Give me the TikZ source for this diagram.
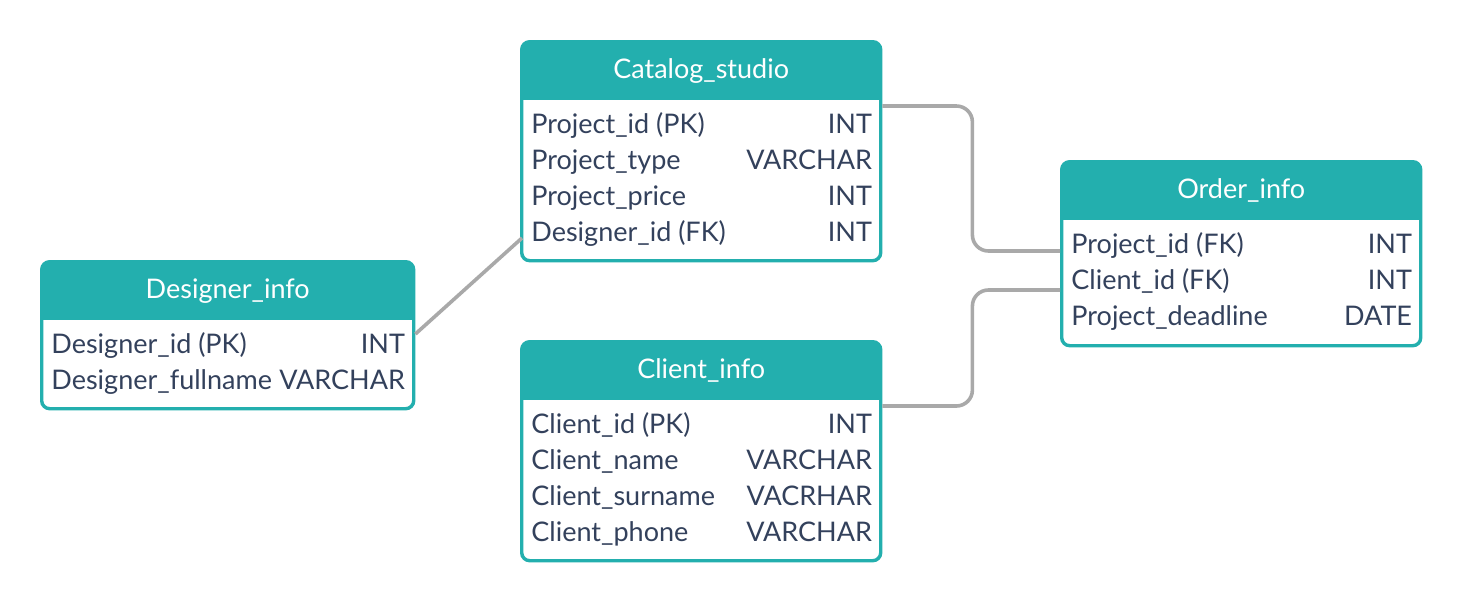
\documentclass[tikz,border=0pt]{standalone}
\usepackage{fontspec}
\setmainfont{Lato}
\usetikzlibrary{calc}
\definecolor{tblTeal}{HTML}{23AFAE}
\definecolor{textDark}{HTML}{33415C}
\definecolor{linkGray}{HTML}{A9A9A9}

\begin{document}
\begin{tikzpicture}[x=0.5pt, y=-0.5pt,
    tbl/.style={rectangle, rounded corners=4pt, draw=tblTeal, line width=1.7pt,
                fill=white, anchor=north west, inner sep=0pt,
                path picture={\fill[tblTeal, sharp corners]
                  (path picture bounding box.north west) rectangle
                  ([yshift=-29pt]path picture bounding box.north east);}},
    ttl/.style={anchor=base, inner sep=0pt, text=white,
                font=\fontsize{13.5}{16}\selectfont},
    fld/.style={anchor=base west, inner sep=0pt, text=textDark,
                font=\fontsize{13.5}{16}\selectfont},
    typ/.style={anchor=base east, inner sep=0pt, text=textDark,
                font=\fontsize{13.5}{16}\selectfont},
    link/.style={draw=linkGray, line width=1.8pt, rounded corners=8pt},
  ]
    \useasboundingbox (0,0) rectangle (1460,600);

    % tables
    \node[tbl, minimum width=179.5pt, minimum height=109.5pt] (cat) at (520,40) {};
    \node[ttl] (cat-t) at ($(cat.north)+(0,38)$) {Catalog\_studio};
    \foreach \f/\t [count=\i] in {Project\_id (PK)/INT, Project\_type/VARCHAR,
        Project\_price/INT, Designer\_id (FK)/INT} {
      \node[fld] (cat-f\i) at ($(cat.north west)+(11,{93+36*(\i-1)})$) {\f};
      \node[typ] (cat-y\i) at ($(cat.north east)+(-10,{93+36*(\i-1)})$) {\t};
    }

    \node[tbl, minimum width=186pt, minimum height=73.5pt] (des) at (40,260) {};
    \node[ttl] (des-t) at ($(des.north)+(0,38)$) {Designer\_info};
    \foreach \f/\t [count=\i] in {Designer\_id (PK)/INT,
        Designer\_fullname/VARCHAR} {
      \node[fld] (des-f\i) at ($(des.north west)+(11,{93+36*(\i-1)})$) {\f};
      \node[typ] (des-y\i) at ($(des.north east)+(-10,{93+36*(\i-1)})$) {\t};
    }

    \node[tbl, minimum width=179.5pt, minimum height=109.5pt] (cli) at (520,340) {};
    \node[ttl] (cli-t) at ($(cli.north)+(0,38)$) {Client\_info};
    \foreach \f/\t [count=\i] in {Client\_id (PK)/INT, Client\_name/VARCHAR,
        Client\_surname/VACRHAR, Client\_phone/VARCHAR} {
      \node[fld] (cli-f\i) at ($(cli.north west)+(11,{93+36*(\i-1)})$) {\f};
      \node[typ] (cli-y\i) at ($(cli.north east)+(-10,{93+36*(\i-1)})$) {\t};
    }

    \node[tbl, minimum width=179.5pt, minimum height=92pt] (ord) at (1060,160) {};
    \node[ttl] (ord-t) at ($(ord.north)+(0,38)$) {Order\_info};
    \foreach \f/\t [count=\i] in {Project\_id (FK)/INT, Client\_id (FK)/INT,
        Project\_deadline/DATE} {
      \node[fld] (ord-f\i) at ($(ord.north west)+(11,{93+36*(\i-1)})$) {\f};
      \node[typ] (ord-y\i) at ($(ord.north east)+(-10,{93+36*(\i-1)})$) {\t};
    }

    % relations
    \draw[link] ($(cat.north east)+(0,66)$) -- ++(90,0)
      |- ($(ord.north west)+(0,91)$);
    \draw[link] ($(cli.north east)+(0,66)$) -- ++(90,0)
      |- ($(ord.north west)+(0,130)$);
    \draw[link] ($(des.north east)+(0,74)$) -- ($(cat.north west)+(2,198)$);
  \end{tikzpicture}
\end{document}
